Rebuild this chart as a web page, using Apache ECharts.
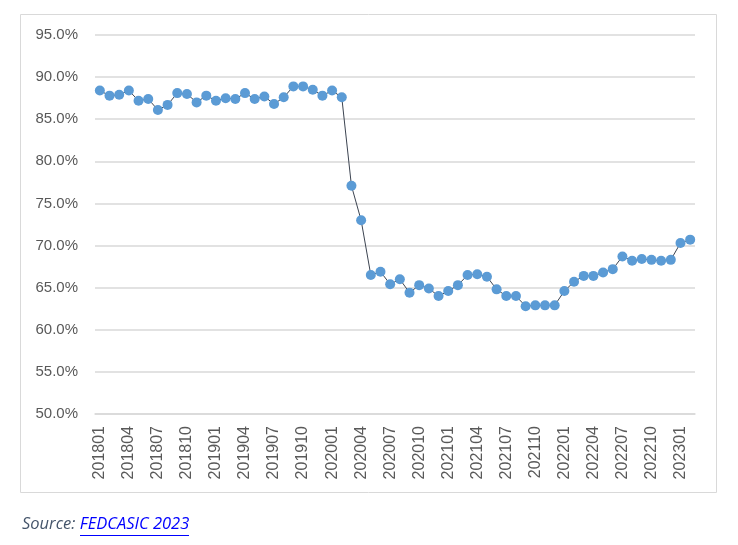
<!DOCTYPE html>
<html>
<head>
<meta charset="utf-8">
<script src="https://cdn.jsdelivr.net/npm/echarts@6/dist/echarts.min.js"></script>
<style>
  html, body { margin: 0; padding: 0; background: #fff; }
  #chart { width: 738px; height: 545px; }
</style>
</head>
<body>
<div id="chart"></div>
<script>
// monthly periods 201801 .. 202302
var months = [
  '201801','201802','201803','201804','201805','201806','201807','201808','201809','201810','201811','201812',
  '201901','201902','201903','201904','201905','201906','201907','201908','201909','201910','201911','201912',
  '202001','202002','202003','202004','202005','202006','202007','202008','202009','202010','202011','202012',
  '202101','202102','202103','202104','202105','202106','202107','202108','202109','202110','202111','202112',
  '202201','202202','202203','202204','202205','202206','202207','202208','202209','202210','202211','202212',
  '202301','202302'
];

// percent values
var rates = [
  88.4, 87.8, 87.9, 88.4, 87.2, 87.4, 86.1, 86.7, 88.1, 88.0, 87.0, 87.8,
  87.2, 87.5, 87.4, 88.1, 87.4, 87.7, 86.8, 87.6, 88.9, 88.9, 88.5, 87.8,
  88.4, 87.6, 77.1, 73.0, 66.5, 66.9, 65.4, 66.0, 64.4, 65.3, 64.9, 64.0,
  64.6, 65.3, 66.5, 66.6, 66.3, 64.8, 64.0, 64.0, 62.8, 62.9, 62.9, 62.9,
  64.6, 65.7, 66.4, 66.4, 66.8, 67.2, 68.7, 68.2, 68.4, 68.3, 68.2, 68.3,
  70.3, 70.7
];

var yMin = 50, yMax = 95, yStep = 5;

var chart = echarts.init(document.getElementById('chart'));

var txtFont = '"Liberation Sans", Arial, sans-serif';

chart.setOption({
  animation: false,
  textStyle: { fontFamily: txtFont },
  grid: { left: 95, right: 43, top: 35, bottom: 131 },
  xAxis: {
    type: 'category',
    data: months,
    boundaryGap: true,
    axisLine: { lineStyle: { color: '#d9d9d9', width: 1.5 } },
    axisTick: { show: false },
    axisLabel: {
      interval: 2,
      rotate: 90,
      margin: 12,
      color: '#595959',
      fontSize: 16,
      fontFamily: txtFont
    }
  },
  yAxis: {
    type: 'value',
    min: yMin,
    max: yMax,
    interval: yStep,
    axisLine: { show: false },
    axisTick: { show: false },
    splitLine: { lineStyle: { color: '#d9d9d9', width: 1.5 } },
    axisLabel: {
      margin: 17,
      color: '#595959',
      fontSize: 15,
      fontFamily: txtFont,
      formatter: function (v) { return v.toFixed(1) + '%'; }
    }
  },
  series: [{
    type: 'line',
    data: rates,
    symbol: 'circle',
    symbolSize: 10,
    showAllSymbol: true,
    itemStyle: { color: '#5b9bd5' },
    lineStyle: { color: '#3b4350', width: 1 },
    z: 3
  }],
  graphic: [
    {
      type: 'rect',
      shape: { x: 20.5, y: 14.5, width: 696, height: 478 },
      style: { fill: null, stroke: '#d9d9d9', lineWidth: 1 },
      silent: true
    },
    {
      type: 'text',
      left: 22,
      top: 516,
      style: {
        text: '{a|Source: }{b|FEDCASIC 2023}',
        rich: {
          a: { fontSize: 16.5, fontStyle: 'italic', fill: '#44546a', fontFamily: '"Open Sans", sans-serif' },
          b: { fontSize: 16.5, fontStyle: 'italic', fill: '#0000ff', fontFamily: '"Open Sans", sans-serif' }
        }
      }
    },
    {
      type: 'line',
      shape: { x1: 80, y1: 535.5, x2: 189, y2: 535.5 },
      style: { stroke: '#0000ff', lineWidth: 1 }
    }
  ]
});
</script>
</body>
</html>
